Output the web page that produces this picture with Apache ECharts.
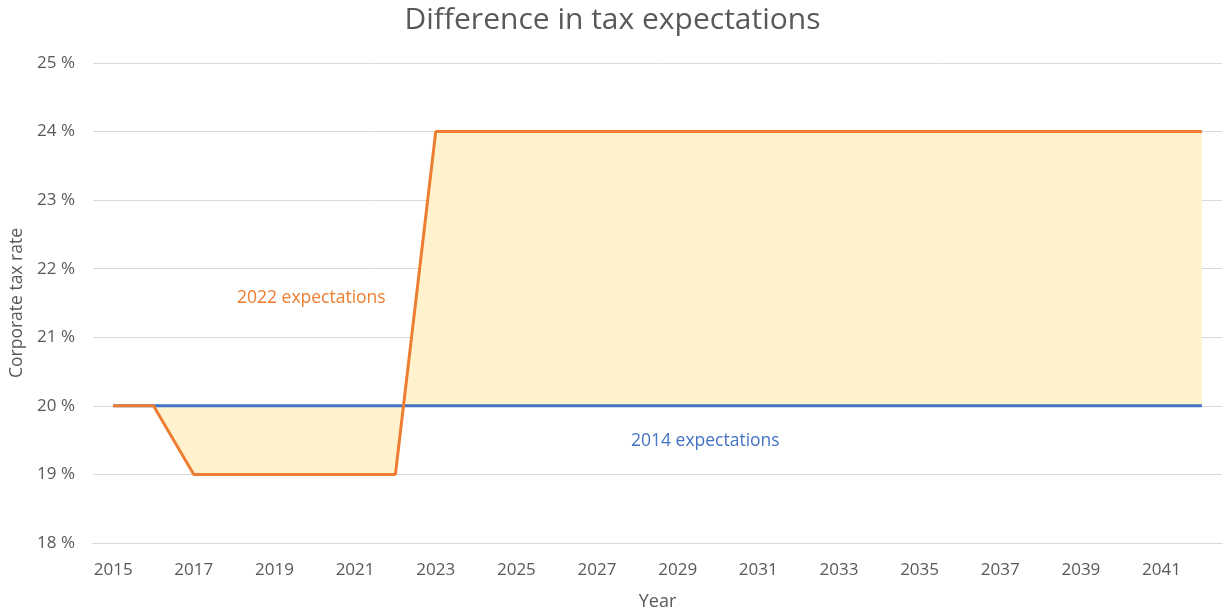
<!DOCTYPE html>
<html><head><meta charset="utf-8">
<script src="https://cdn.jsdelivr.net/npm/echarts@6/dist/echarts.min.js"></script>
<style>html,body{margin:0;padding:0;background:#fff}#c{width:1225px;height:613px}</style>
</head><body><div id="c"></div>
<script>
const years = ['2015','2016','2017','2018','2019','2020','2021','2022','2023','2024','2025','2026','2027','2028','2029','2030','2031','2032','2033','2034','2035','2036','2037','2038','2039','2040','2041','2042'];
const exp2022 = [20,20,19,19,19,19,19,19,24,24,24,24,24,24,24,24,24,24,24,24,24,24,24,24,24,24,24,24];
const exp2014 = [20,20,20,20,20,20,20,20,20,20,20,20,20,20,20,20,20,20,20,20,20,20,20,20,20,20,20,20];
const yTicks = [18,19,20,21,22,23,24,25];

const FONT = '"Open Sans", sans-serif';
const chart = echarts.init(document.getElementById('c'));
chart.setOption({
  animation: false,
  backgroundColor: '#fff',
  title: { text: 'Difference in tax expectations', left: 'center', top: 0,
    textStyle: { fontFamily: FONT, fontSize: 30, fontWeight: 'normal', color: '#595959' } },
  grid: { left: 93, right: 3, top: 63, bottom: 70, outerBoundsMode: 'none', containLabel: false },
  xAxis: { type: 'category', data: years, boundaryGap: true,
    name: 'Year', nameLocation: 'middle', nameGap: 50,
    nameTextStyle: { fontFamily: FONT, fontSize: 18, color: '#595959' },
    axisLine: { lineStyle: { color: '#d9d9d9' } }, axisTick: { show: false },
    axisLabel: { interval: 1, margin: 19, fontFamily: FONT, fontSize: 17, color: '#595959' } },
  yAxis: { type: 'value', min: yTicks[0], max: yTicks[yTicks.length-1], interval: 1,
    name: 'Corporate tax rate', nameLocation: 'middle', nameGap: 66,
    nameTextStyle: { fontFamily: FONT, fontSize: 17.5, color: '#595959' },
    axisLine: { show: false }, axisTick: { show: false },
    splitLine: { lineStyle: { color: '#d9d9d9' } },
    axisLabel: { margin: 18, fontFamily: FONT, fontSize: 17, color: '#595959', formatter: v => v + ' %' } },
  series: [
    { name: 'fill', type: 'line', data: exp2022, symbol: 'none', z: 1, silent: true,
      lineStyle: { width: 0, opacity: 0 },
      areaStyle: { color: '#FFF2CC', opacity: 1, origin: 20 } },
    { name: '2014 expectations', type: 'line', data: exp2014, symbol: 'none', z: 2,
      lineStyle: { color: '#4472C4', width: 3 } },
    { name: '2022 expectations', type: 'line', data: exp2022, symbol: 'none', z: 3,
      lineStyle: { color: '#ED7D31', width: 3 } }
  ],
  graphic: [
    { type: 'text', left: 237, top: 289, style: { text: '2022 expectations', fill: '#ED7D31', font: '17.5px ' + FONT } },
    { type: 'text', left: 631, top: 432, style: { text: '2014 expectations', fill: '#4472C4', font: '17.5px ' + FONT } }
  ]
});
</script></body></html>
